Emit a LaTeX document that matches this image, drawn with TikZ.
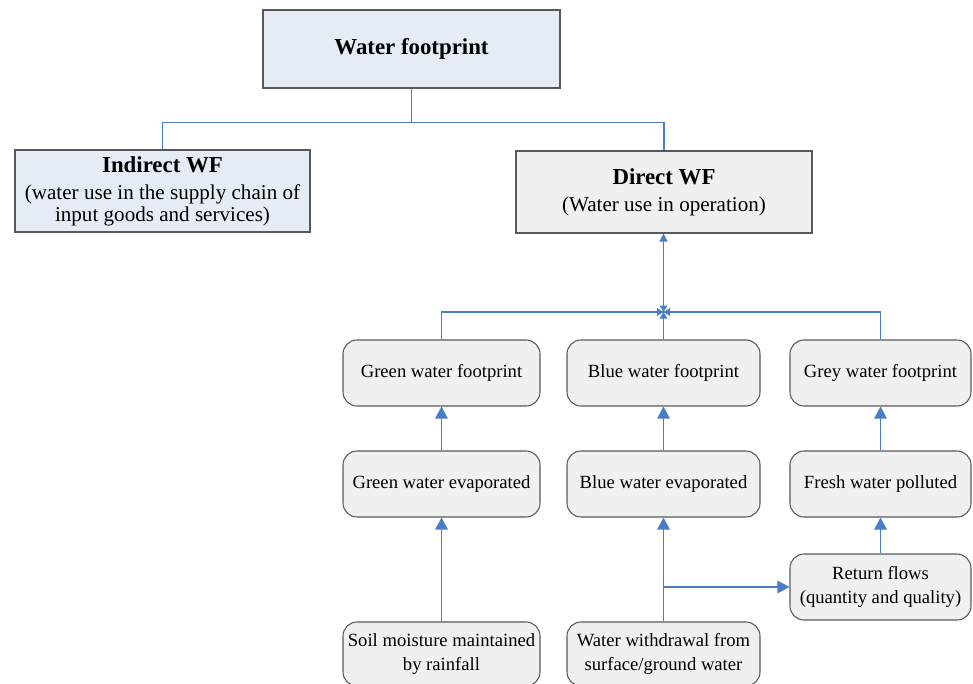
\documentclass[tikz,border=0pt]{standalone}
\usepackage{fontspec}
\setmainfont{Liberation Serif}
\usetikzlibrary{arrows.meta, calc}
\definecolor{flow}{HTML}{4A7CC8}
\definecolor{boxgrey}{HTML}{F0F0F0}
\definecolor{boxblue}{HTML}{E6ECF6}
\definecolor{edge}{HTML}{595959}

\begin{document}
\begin{tikzpicture}[x=0.2mm, y=-0.2mm, >={Triangle[length=2.4mm, width=2.5mm]},
    topbox/.style={draw=edge, line width=0.6pt, align=center, inner sep=0pt, font=\fontsize{12}{12.5}\selectfont},
    stepbox/.style={draw=edge, fill=boxgrey, rounded corners=2.8mm, line width=0.6pt, align=center, inner sep=0pt, minimum height=13.2mm, font=\fontsize{10.6}{13.5}\selectfont},
    link/.style={flow, line width=0.75pt}]
      \useasboundingbox (0,0) rectangle (973,684);
      % top level
      \node[topbox, fill=boxblue, minimum width=59.4mm, minimum height=15.6mm, font=\fontsize{13}{15}\selectfont\bfseries] (wf) at (411.5,49) {Water footprint};
      \node[topbox, fill=boxblue, minimum width=59mm, minimum height=16.4mm] (indirect) at (162.5,191)
        {{\fontsize{13}{15}\selectfont\bfseries Indirect WF}\\[3pt](water use in the supply chain of\\input goods and services)};
      \node[topbox, fill=boxgrey, minimum width=59.2mm, minimum height=16.4mm] (direct) at (664,192)
        {{\fontsize{13}{15}\selectfont\bfseries Direct WF}\\[3pt](Water use in operation)};
      % footprint columns
      \node[stepbox, minimum width=39.4mm] (greenfp) at (441.5,373) {Green water footprint};
      \node[stepbox, minimum width=38.6mm] (bluefp) at (663.5,373) {Blue water footprint};
      \node[stepbox, minimum width=36.2mm] (greyfp) at (880.5,373) {Grey water footprint};
      \node[stepbox, minimum width=39.4mm] (greenev) at (441.5,484) {Green water evaporated};
      \node[stepbox, minimum width=38.6mm] (blueev) at (663.5,484) {Blue water evaporated};
      \node[stepbox, minimum width=36.2mm] (fresh) at (880.5,484) {Fresh water polluted};
      \node[stepbox, minimum width=36.2mm] (ret) at (880.5,587) {Return flows\\(quantity and quality)};
      \node[stepbox, minimum width=39.4mm, minimum height=12.8mm] (soil) at (441.5,654) {Soil moisture maintained\\by rainfall};
      \node[stepbox, minimum width=38.6mm, minimum height=12.8mm] (withdraw) at (663.5,654) {Water withdrawal from\\surface/ground water};
      % tree links
      \draw[link] (wf.south) -- ++(0,34);
      \draw[link] (indirect.north) |- ($(wf.south)+(0,34)$) -| (direct.north);
      \coordinate (hub) at (663.5,312);
      \draw[link] (greenfp.north) |- (hub) -| (greyfp.north);
      \draw[link] (bluefp.north) -- (hub);
      \draw[link, -{Triangle[length=1.6mm, width=1.6mm]}] (hub) -- (hub |- direct.south);
      \foreach \a in {0,90,180,270}
        \draw[link, -{Triangle[length=1.3mm, width=1.5mm]}] (hub) ++(\a:8) -- (hub);
      % flows
      \foreach \a/\b in {greenev/greenfp, blueev/bluefp, fresh/greyfp, soil/greenev, withdraw/blueev, ret/fresh}
        \draw[link, ->] (\a) -- (\b);
      \draw[link, ->] (withdraw.north |- ret.west) -- (ret.west);
    \end{tikzpicture}
\end{document}
